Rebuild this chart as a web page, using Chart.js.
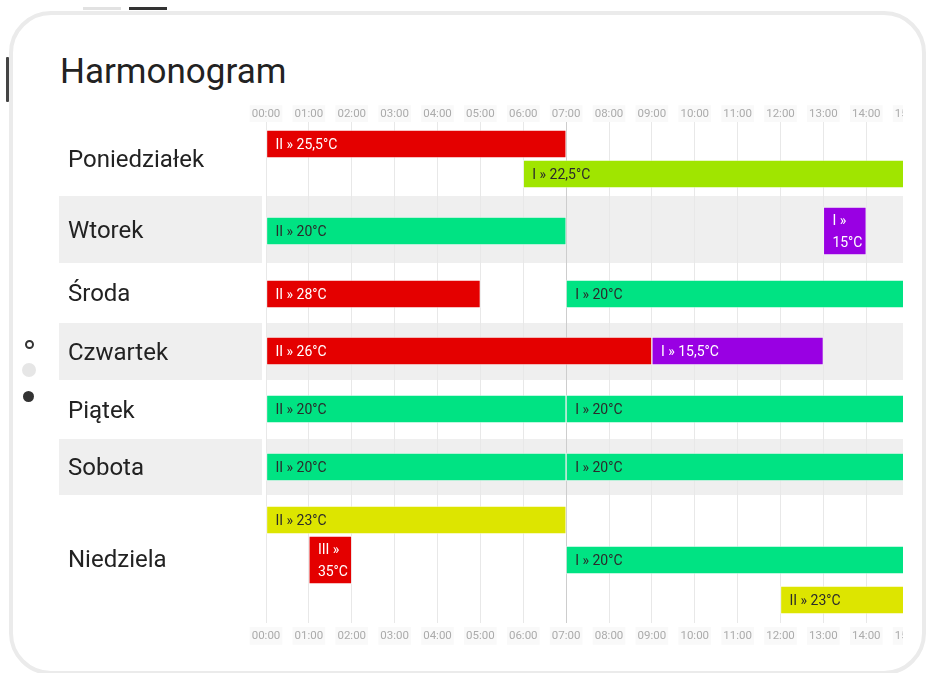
<!DOCTYPE html>
<html lang="pl">
<head>
<meta charset="utf-8">
<title>Harmonogram</title>
<script src="https://cdn.jsdelivr.net/npm/chart.js@4.4.1/dist/chart.umd.min.js"></script>
<style>
  html, body { margin: 0; padding: 0; background: #fff; }
  body { width: 926px; height: 673px; position: relative; overflow: hidden; font-family: Roboto, sans-serif; }
  .karta { position: absolute; left: 9px; top: 11px; width: 909px; height: 656px; border: 4px solid #ebebeb; border-radius: 42px; }
  .zakladka { position: absolute; top: 7px; height: 3px; }
  .pasek { position: absolute; left: 6px; top: 57px; width: 3px; height: 45px; background: #444; border-radius: 1px; }
  .kropka { position: absolute; border-radius: 50%; }
  h1 { position: absolute; left: 60px; top: 54px; margin: 0; font-size: 35px; line-height: 1; font-weight: 400; color: #222; }
  .okno { position: absolute; left: 0; top: 95px; width: 903px; height: 560px; overflow: hidden; }
</style>
</head>
<body>
<div class="karta"></div>
<div class="zakladka" style="left:83px;width:38px;background:#e2e2e2"></div>
<div class="zakladka" style="left:129px;width:38px;background:#333"></div>
<div class="pasek"></div>
<div class="kropka" style="left:25px;top:340px;width:5px;height:5px;border:2px solid #333"></div>
<div class="kropka" style="left:22px;top:363px;width:14px;height:14px;background:#e6e6e6"></div>
<div class="kropka" style="left:23px;top:391px;width:11px;height:11px;background:#333"></div>
<h1>Harmonogram</h1>
<div class="okno"><canvas id="harmonogram" width="1330" height="560"></canvas></div>
<script>
// Dni tygodnia
const dni = ['Poniedziałek', 'Wtorek', 'Środa', 'Czwartek', 'Piątek', 'Sobota', 'Niedziela'];
// Etykiety osi czasu
const godziny = ['00:00', '01:00', '02:00', '03:00', '04:00', '05:00', '06:00', '07:00', '08:00',
  '09:00', '10:00', '11:00', '12:00', '13:00', '14:00', '15:00', '16:00', '17:00', '18:00',
  '19:00', '20:00', '21:00', '22:00', '23:00', '24:00'];

// Wpisy harmonogramu (dzień, tor w wierszu, od, do, strefa, temperatura)
const wpisDzien = [0, 0, 1, 1, 2, 2, 3, 3, 4, 4, 5, 5, 6, 6, 6, 6];
const wpisTor = [0, 1, 0, 0, 0, 0, 0, 0, 0, 0, 0, 0, 0, 1, 1, 2];
const wpisOd = [0, 6, 0, 13, 0, 7, 0, 9, 0, 7, 0, 7, 0, 1, 7, 12];
const wpisDo = [7, 24, 7, 14, 5, 24, 9, 13, 7, 24, 7, 24, 7, 2, 24, 24];
const wpisStrefa = ['II', 'I', 'II', 'I', 'II', 'I', 'II', 'I', 'II', 'I', 'II', 'I', 'II', 'III', 'I', 'II'];
const wpisTemp = [25.5, 22.5, 20, 15, 28, 20, 26, 15.5, 20, 20, 20, 20, 23, 35, 20, 23];

const teraz = 7; // znacznik bieżącej godziny

// Układ wierszy (wysokości i przesunięcia torów)
const wysokoscWiersza = [74, 67, 60, 57, 59, 56, 128];
const przesuniecieToru = [[22, 52], [35], [31], [28], [29], [28], [25, 65, 105]];

const gornaKrawedz = [];
let suma = 0;
wysokoscWiersza.forEach(h => { gornaKrawedz.push(suma); suma += h; });
const srodekWiersza = wysokoscWiersza.map((h, i) => gornaKrawedz[i] + h / 2);

function kolor(t) {
  if (t >= 25) return '#e40000';
  if (t >= 23) return '#dde500';
  if (t >= 21) return '#a0e500';
  if (t >= 18) return '#00e383';
  return '#9900e3';
}
function kolorTekstu(t) {
  return (t >= 25 || t < 18) ? '#ffffff' : '#2b2b2b';
}

const punkty = wpisDzien.map((d, i) => ({
  x: [wpisOd[i], wpisDo[i]],
  y: gornaKrawedz[d] + przesuniecieToru[d][wpisTor[i]],
  etykieta: wpisStrefa[i] + ' » ' + String(wpisTemp[i]).replace('.', ',') + '°C',
  temp: wpisTemp[i]
}));
// wąskie wpisy zawijają tekst, więc są wyższe
const waskie = p => p.x[1] - p.x[0] <= 1;

function zawijaj(ctx, tekst, szer) {
  const slowa = tekst.split(' ');
  const linie = [];
  let biezaca = '';
  slowa.forEach(s => {
    const proba = biezaca ? biezaca + ' ' + s : s;
    if (biezaca && ctx.measureText(proba).width > szer) {
      linie.push(biezaca);
      biezaca = s;
    } else {
      biezaca = proba;
    }
  });
  if (biezaca) linie.push(biezaca);
  return linie;
}

// Pasy tła dla co drugiego dnia
const pasy = {
  id: 'pasy',
  beforeDraw(chart) {
    const { ctx, chartArea, scales: { y } } = chart;
    ctx.save();
    ctx.fillStyle = '#efefef';
    dni.forEach((d, i) => {
      if (i % 2 === 0) return;
      const g = y.getPixelForValue(gornaKrawedz[i]);
      const h = y.getPixelForValue(gornaKrawedz[i] + wysokoscWiersza[i]) - g;
      ctx.fillRect(y.left - 9, g, chartArea.left - 4 - (y.left - 9), h);
      ctx.fillRect(chartArea.left, g, chartArea.right - chartArea.left, h);
    });
    ctx.restore();
  }
};

// Napisy na paskach
const napisy = {
  id: 'napisy',
  afterDatasetsDraw(chart) {
    const ctx = chart.ctx;
    ctx.save();
    ctx.font = '14px Roboto';
    ctx.textBaseline = 'middle';
    ctx.textAlign = 'left';
    chart.data.datasets.forEach((ds, di) => {
      chart.getDatasetMeta(di).data.forEach((bar, i) => {
        const p = ds.data[i];
        const lewo = Math.min(bar.x, bar.base) + 9;
        const szer = Math.abs(bar.x - bar.base) - 12;
        const linie = zawijaj(ctx, p.etykieta, szer);
        ctx.fillStyle = kolorTekstu(p.temp);
        linie.forEach((l, k) => {
          ctx.fillText(l, lewo, bar.y + 1 + (k - (linie.length - 1) / 2) * 22);
        });
      });
    });
    ctx.restore();
  }
};

const osCzasu = (pozycja, wysokosc, odstep) => ({
  type: 'linear',
  position: pozycja,
  min: 0,
  max: 24,
  afterBuildTicks: s => { s.ticks = godziny.map((g, i) => ({ value: i })); },
  afterFit: s => { s.height = wysokosc; s.paddingLeft = 0; s.paddingRight = 0; },
  border: { display: false },
  grid: {
    display: pozycja === 'bottom',
    drawTicks: false,
    color: ctx => (ctx.tick && ctx.tick.value === teraz) ? '#cdcdcd' : '#e8e8e8'
  },
  ticks: {
    padding: odstep,
    color: '#ababab',
    font: { family: 'Roboto', size: 11.5 },
    callback: v => godziny[v],
    autoSkip: false,
    maxRotation: 0,
    showLabelBackdrop: true,
    backdropColor: '#f9f9f9',
    backdropPadding: 2
  }
});

const wygladPaska = {
  grouped: false,
  borderSkipped: false,
  borderWidth: 1,
  backgroundColor: c => kolor(c.raw.temp),
  borderColor: 'rgba(255,255,255,0.45)'
};

new Chart(document.getElementById('harmonogram'), {
  type: 'bar',
  data: {
    datasets: [
      { data: punkty.filter(p => !waskie(p)), barThickness: 28, ...wygladPaska },
      { data: punkty.filter(waskie), barThickness: 48, ...wygladPaska }
    ]
  },
  options: {
    indexAxis: 'y',
    responsive: false,
    devicePixelRatio: 1,
    animation: false,
    layout: { padding: { left: 68, right: 35, top: 0, bottom: 0 } },
    plugins: { legend: { display: false }, tooltip: { enabled: false } },
    scales: {
      x: osCzasu('bottom', 32, 6),
      x2: osCzasu('top', 27, 1),
      y: {
        type: 'linear',
        offset: false,
        min: 0,
        max: suma,
        reverse: true,
        afterBuildTicks: s => { s.ticks = srodekWiersza.map(v => ({ value: v + 2 })); },
        afterFit: s => { s.width = 198; s.paddingTop = 0; s.paddingBottom = 0; },
        grid: { display: false },
        border: { display: false },
        ticks: {
          callback: (v, i) => dni[i],
          crossAlign: 'far',
          autoSkip: false,
          color: '#222',
          font: { family: 'Roboto', size: 24 }
        }
      }
    }
  },
  plugins: [pasy, napisy]
});
</script>
</body>
</html>
